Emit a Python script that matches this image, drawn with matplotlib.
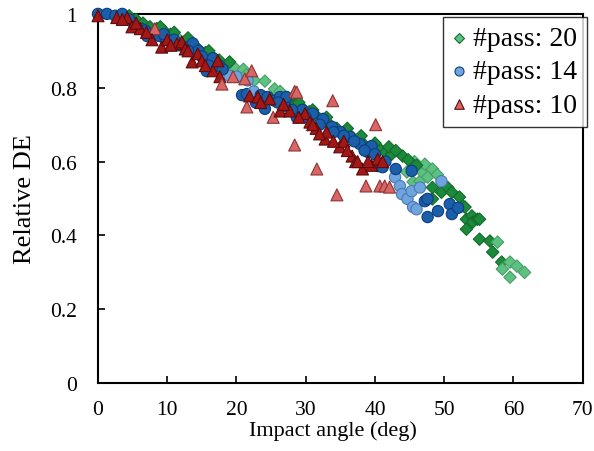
import numpy as np
import matplotlib.pyplot as plt
from matplotlib.colors import to_rgb

# relative DE vs impact angle, three pass counts; tone 0 = light batch, 1 = dark batch
x20 = [4.5, 5.5, 6.5, 7.5, 8.5, 9.5, 10.5, 11.5, 12.5, 13.5, 14.5, 15.5, 16.5, 17.5, 18.5,
       19.9, 21.0, 21.4, 22.6, 24.1, 25.5, 26.3, 27.5, 28.5, 29.5, 30.5, 31.5, 32.5, 33.5,
       34.5, 35.5, 36.5, 37.5, 38.5, 39.5, 40.7, 41.5, 42.4, 44.0, 44.6, 45.5, 45.7, 46.5,
       46.9, 47.2, 47.6, 48.3, 49.0, 48.3, 48.3, 49.6, 50.5, 51.1, 52.2, 52.7, 53.0, 53.2,
       54.0, 54.1, 54.8, 55.1, 53.2, 55.1, 56.6, 57.7, 57.0, 58.3, 58.4, 59.5, 60.5, 61.6, 59.5,
       9.0, 11.0, 13.0, 16.0, 19.0, 29.0, 31.0, 33.0, 36.0, 38.0, 40.0, 42.0, 43.0, 44.8, 46.0]
y20 = [0.995, 0.985, 0.975, 0.965, 0.96, 0.955, 0.945, 0.935, 0.925, 0.915, 0.905, 0.895, 0.885,
       0.875, 0.86, 0.851, 0.85, 0.835, 0.82, 0.818, 0.797, 0.79, 0.77, 0.755, 0.745, 0.735,
       0.725, 0.715, 0.70, 0.69, 0.68, 0.67, 0.655, 0.645, 0.64, 0.634, 0.625, 0.62, 0.615,
       0.572, 0.545, 0.60, 0.547, 0.57, 0.593, 0.558, 0.58, 0.565, 0.53, 0.499, 0.517, 0.53,
       0.517, 0.504, 0.48, 0.477, 0.444, 0.453, 0.436, 0.444, 0.444, 0.417, 0.39, 0.385, 0.382,
       0.355, 0.328, 0.309, 0.328, 0.317, 0.30, 0.287,
       0.965, 0.95, 0.935, 0.90, 0.87, 0.76, 0.74, 0.72, 0.69, 0.67, 0.65, 0.64, 0.63, 0.605, 0.59]
t20 = [1, 1, 1, 1, 1, 1, 1, 0, 1, 1, 1, 1, 1, 1, 0, 0, 0, 0, 0, 0, 0, 0, 1, 1, 1, 1, 1, 1, 1,
       1, 1, 1, 1, 1, 1, 1, 1, 1, 1, 0, 0, 0, 0, 0, 0, 0, 0, 0, 1, 1, 1, 1, 1, 1, 1, 1, 1, 1,
       1, 1, 1, 1, 1, 1, 0, 1, 1, 0, 0, 0, 0, 0,
       1, 1, 1, 1, 1, 1, 1, 1, 1, 1, 1, 1, 1, 1, 1]

x14 = [0, 1.3, 2.5, 3.5, 4.5, 5.3, 6.2, 7.1, 8.0, 8.9, 9.8, 10.7, 11.6, 12.5, 13.7, 14.5, 15.7,
       16.6, 17.5, 19.0, 20.0, 21.6, 20.8, 21.5, 22.5, 23.5, 24.5, 24.1, 25.5, 26.3, 27.0, 27.2,
       28.7, 29.5, 31.0, 32.5, 33.8, 35.0, 36.4, 37.8, 39.0, 39.5, 40.4, 41.1, 42.9, 43.6, 43.9,
       44.7, 45.3, 45.3, 45.5, 46.0, 46.5, 47.2, 47.6, 47.6, 49.1, 49.6, 50.8, 51.1, 52.0,
       6.8, 9.5, 11.0, 13.0, 15.0, 16.0, 18.0, 22.8, 26.0, 28.0, 30.0, 32.0, 34.0, 35.5, 37.0,
       38.5, 40.0, 41.5, 43.0]
y14 = [1.0, 1.0, 0.995, 1.0, 0.985, 0.965, 0.96, 0.94, 0.945, 0.94, 0.93, 0.92, 0.915, 0.91,
       0.92, 0.90, 0.845, 0.88, 0.86, 0.832, 0.83, 0.82, 0.78, 0.783, 0.79, 0.78, 0.775, 0.743,
       0.765, 0.775, 0.75, 0.775, 0.72, 0.74, 0.73, 0.715, 0.694, 0.68, 0.667, 0.648, 0.626,
       0.642, 0.588, 0.585, 0.558, 0.534, 0.512, 0.499, 0.52, 0.575, 0.477, 0.471, 0.53, 0.493,
       0.499, 0.45, 0.466, 0.547, 0.485, 0.458, 0.475,
       0.955, 0.945, 0.93, 0.90, 0.885, 0.86, 0.85, 0.76, 0.76, 0.74, 0.72, 0.70, 0.68, 0.67,
       0.655, 0.63, 0.62, 0.60, 0.58]
t14 = [1, 1, 1, 1, 1, 1, 1, 1, 1, 1, 1, 1, 1, 1, 1, 1, 1, 1, 1, 0, 0, 0, 1, 1, 0, 1, 1, 1, 1,
       1, 1, 1, 1, 1, 1, 1, 1, 1, 1, 1, 1, 1, 1, 1, 0, 0, 0, 0, 0, 1, 0, 0, 0, 1, 1, 1, 1, 0,
       1, 1, 1,
       1, 1, 1, 1, 1, 1, 1, 1, 1, 1, 1, 1, 1, 1, 1, 1, 1, 1, 1]

x10 = [0, 2.7, 4.2, 4.9, 6.1, 8.2, 7.8, 9.2, 10.0, 11.4, 12.1, 12.6, 13.6, 14.4, 15.0, 16.6,
       17.3, 17.6, 17.9, 19.5, 21.2, 22.2, 21.5, 21.9, 23.1, 24.8, 25.3, 26.3, 27.7, 28.4, 28.7,
       28.4, 29.9, 30.6, 31.5, 31.6, 32.8, 33.0, 33.9, 34.5, 34.9, 35.5, 36.7, 37.2, 38.2, 38.7,
       39.5, 40.1, 40.4, 40.7, 41.1, 41.4, 42.1,
       3.5, 5.5, 7.0, 10.5, 13.0, 15.5, 23.5, 26.8, 29.0, 31.0, 32.0, 34.0, 36.0, 37.5, 39.0]
y10 = [0.995, 0.99, 0.99, 0.965, 0.96, 0.96, 0.93, 0.91, 0.93, 0.919, 0.924, 0.905, 0.87,
       0.892, 0.873, 0.846, 0.873, 0.83, 0.81, 0.83, 0.824, 0.846, 0.748, 0.778, 0.775, 0.77,
       0.72, 0.737, 0.737, 0.79, 0.788, 0.645, 0.73, 0.707, 0.69, 0.58, 0.661, 0.68, 0.765, 0.51,
       0.64, 0.655, 0.615, 0.60, 0.58, 0.534, 0.59, 0.70, 0.607, 0.534, 0.60, 0.534, 0.531,
       0.985, 0.975, 0.95, 0.915, 0.90, 0.86, 0.76, 0.755, 0.72, 0.70, 0.675, 0.655, 0.63,
       0.60, 0.60]
t10 = [1, 1, 1, 1, 1, 0, 1, 1, 1, 1, 1, 1, 1, 1, 1, 1, 1, 1, 0, 0, 0, 0, 0, 1, 1, 1, 0, 1, 1,
       0, 0, 0, 1, 1, 1, 0, 1, 1, 0, 0, 1, 1, 1, 1, 1, 0, 1, 0, 1, 0, 1, 0, 0,
       1, 1, 1, 1, 1, 1, 1, 1, 1, 1, 1, 1, 1, 1, 1]

labels = ['#pass: 20', '#pass: 14', '#pass: 10']


def shade(light, dark, tone):
    a, b = np.array(to_rgb(light)), np.array(to_rgb(dark))
    t = np.asarray(tone, float)[:, None]
    return a * (1 - t) + b * t


plt.rcParams['font.family'] = ['Liberation Serif', 'DejaVu Serif']
plt.rcParams['font.size'] = 16

fig = plt.figure(figsize=(5.94, 4.52), dpi=100)
ax = fig.add_axes([0.165, 0.150, 0.816, 0.817])

series = [
    (x20, y20, t20, 'D', 40, '#5cc281', '#1b8a3a', '#4b9d68', '#136b2b', labels[0]),
    (x14, y14, t14, 'o', 66, '#6fa4dc', '#1a5fa8', '#4a7ab8', '#0c3d82', labels[1]),
    (x10, y10, t10, '^', 74, '#d96565', '#a31717', '#8c3434', '#5c0b0b', labels[2]),
]
for xs, ys, ts, mk, sz, lf, df, le, de, lab in series:
    ax.scatter(xs, ys, s=sz, marker=mk, c=shade(lf, df, ts),
               edgecolors=shade(le, de, ts), linewidths=0.8, zorder=3, clip_on=False)
    ax.scatter([], [], s=sz, marker=mk, c=lf, edgecolors=de, linewidths=0.8, label=lab)

ax.set_xlim(0, 70)
ax.set_ylim(0, 1)
ax.set_xticks(range(0, 71, 10))
ax.set_yticks([0, 0.2, 0.4, 0.6, 0.8, 1.0])
ax.set_yticklabels(['0', '0.2', '0.4', '0.6', '0.8', '1'])
ax.tick_params(direction='in', length=5, width=1.2, top=False, right=False, labelsize=15.5)
ax.tick_params(axis='y', pad=15)
ax.tick_params(axis='x', pad=12)
for sp in ax.spines.values():
    sp.set_linewidth(1.5)

ax.set_xlabel('Impact angle (deg)', labelpad=1)
ax.xaxis.set_label_coords(0.485, -0.10)
ax.set_ylabel('Relative DE', fontsize=19, labelpad=10)

leg = ax.legend(loc='upper right', bbox_to_anchor=(1.008, 0.993), frameon=True,
                fancybox=False, edgecolor='black', fontsize=20, handlelength=0.45,
                handletextpad=0.3, labelspacing=0.28, borderpad=0.33, borderaxespad=0.0,
                scatterpoints=1, markerscale=0.8)
leg.get_frame().set_linewidth(1.0)

fig.savefig('out.png', dpi=100)
